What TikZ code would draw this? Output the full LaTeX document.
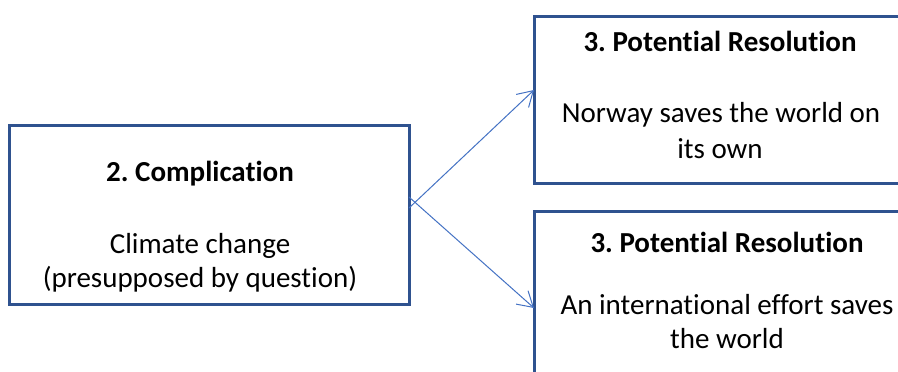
\documentclass[tikz,border=0pt]{standalone}
\usepackage{fontspec}
\setmainfont{Carlito}[Ligatures=NoCommon]
\usetikzlibrary{arrows.meta}
\definecolor{boxblue}{HTML}{2F528F}
\definecolor{arrowblue}{HTML}{4472C4}
\frenchspacing
\begin{document}
\begin{tikzpicture}[x=1pt,y=-1pt,
  box/.style={draw=boxblue,line width=3pt,inner sep=0pt,outer sep=0pt,anchor=north west},
  txt/.style={font=\fontsize{29}{34}\selectfont,anchor=base,inner sep=0pt},
  ttl/.style={font=\fontsize{29}{34}\selectfont\bfseries,anchor=base,inner sep=0pt},
  conn/.style={draw=arrowblue,line width=1pt,-{Straight Barb[length=15pt,width=18pt]}}]
\useasboundingbox[fill=white] (0,0) rectangle (898,372);
\begin{scope}
\clip (0,0) rectangle (898,372);
% boxes
\node[box,minimum width=400pt,minimum height=179pt] (comp) at (9,125) {};
\node[box,minimum width=440pt,minimum height=167pt] (res1) at (534,16) {};
\node[box,minimum width=440pt,minimum height=195pt] (res2) at (534,211) {};
\end{scope}
% texts
\node[ttl] (t1) at (200,181) {2. Complication};
\node[txt] (t2) at (200,253) {Climate change};
\node[txt] (t3) at (200,287) {(presupposed by question)};
\node[ttl] (t4) at (720,52) {3. Potential Resolution};
\node[txt] (t5) at (721,122) {Norway saves the world on};
\node[txt] (t6) at (720,158) {its own};
\node[ttl] (t7) at (727,252) {3. Potential Resolution};
\node[txt] (t8) at (727,314) {An international effort saves};
\node[txt] (t9) at (727,348) {the world};
% connectors
\draw[conn] ([yshift=6.5pt]comp.east) -- ([yshift=9.5pt]res1.west);
\draw[conn] ([yshift=17.5pt]comp.east) -- ([yshift=0.5pt]res2.west);
\end{tikzpicture}
\end{document}
